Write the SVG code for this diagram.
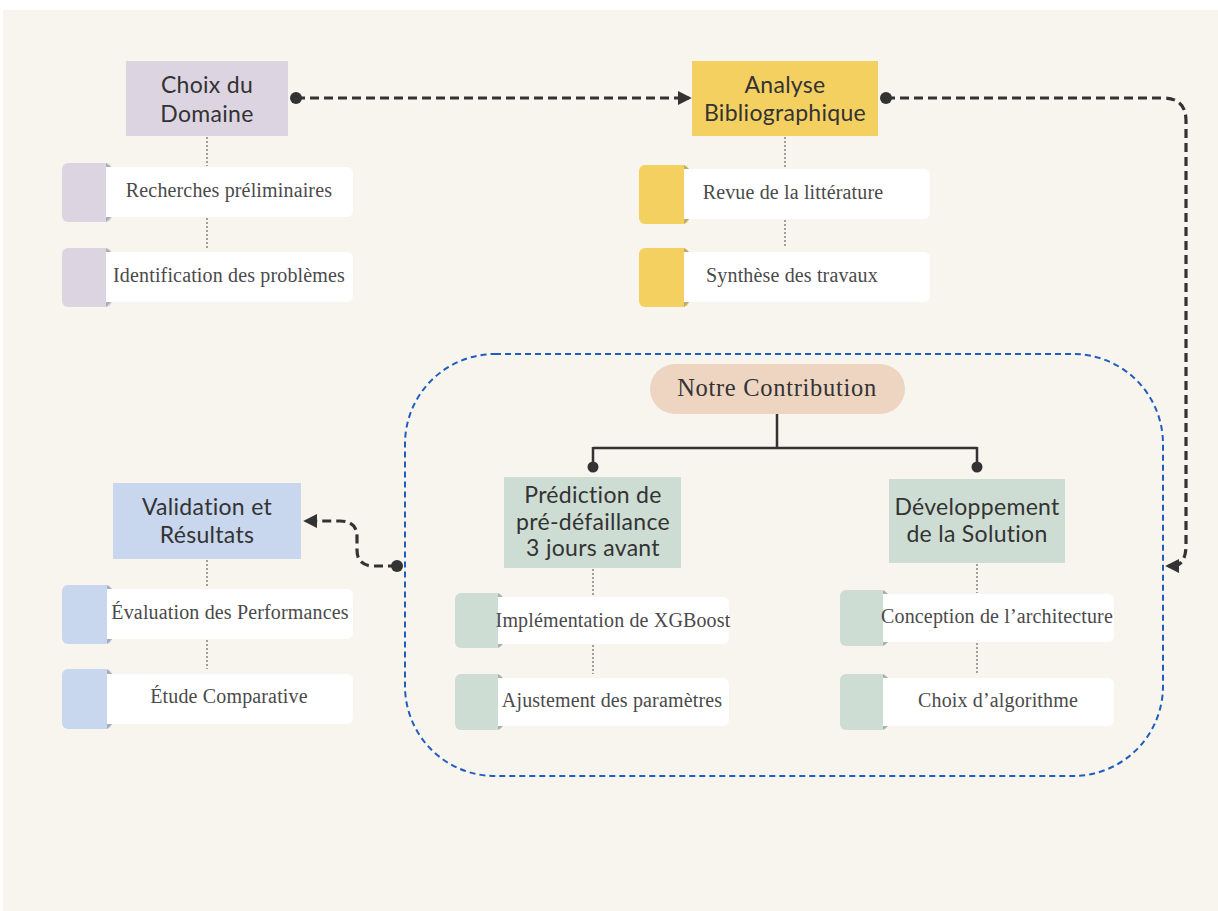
<svg xmlns="http://www.w3.org/2000/svg" width="1218" height="911" viewBox="0 0 1218 911">
  <defs>
    <marker id="arrow" viewBox="0 0 10 10" refX="8" refY="5" markerWidth="4.4" markerHeight="4.4" orient="auto-start-reverse" markerUnits="strokeWidth">
      <path d="M0,0 L10,5 L0,10 z" fill="#333"/>
    </marker>
  </defs>
  <style>
    .title { font-family: "Lato", "Open Sans", sans-serif; font-size: 23px; fill: #333333; text-anchor: middle; letter-spacing: 0.3px; font-variant-ligatures: none; }
    .item { font-family: "Liberation Serif", "Times New Roman", serif; font-size: 20px; fill: #4a4a4a; text-anchor: middle; letter-spacing: 0.15px; }
    .pill { font-family: "Liberation Serif", "Times New Roman", serif; font-size: 24.5px; fill: #333333; text-anchor: middle; letter-spacing: 0.7px; }
    .card { fill: #ffffff; }
    .fold { fill: #8a8a8a; opacity: 0.55; }
    .link { fill: none; stroke: #333; stroke-width: 3.2; stroke-dasharray: 9 5; }
    .tree { fill: none; stroke: #333; stroke-width: 2.5; }
    .dotted { fill: none; stroke: #666; stroke-width: 1.2; stroke-dasharray: 2 2; }
    .lav { fill: #DCD5E1; }
    .yel { fill: #F4D061; }
    .blu { fill: #C8D6EE; }
    .grn { fill: #CEDDD4; }
  </style>

  <!-- canvas -->
  <rect x="0" y="0" width="1218" height="911" fill="#ffffff"/>
  <rect x="3" y="10" width="1215" height="901" fill="#F8F5EF"/>

  <!-- contribution frame -->
  <path d="M495,354 H1073 A90,90 0 0 1 1163,444 V686 A90,90 0 0 1 1073,776 H495 A90,90 0 0 1 405,686 V444 A90,90 0 0 1 495,354 Z" fill="none" stroke="#1F5DC0" stroke-width="2" stroke-dasharray="6 4"/>

  <!-- connectors -->
  <g id="connectors">
    <path class="link" d="M296,98 H689" marker-end="url(#arrow)"/>
    <circle cx="296" cy="98" r="6" fill="#333"/>
    <path class="link" d="M886,98 H1163 Q1186,98 1186,121 V545 Q1186,566 1172,566 H1168" marker-end="url(#arrow)"/>
    <circle cx="886" cy="98" r="6" fill="#333"/>
    <path class="link" d="M397,566 H374 Q357,566 357,550 V537 Q357,521 340,521 H306" marker-end="url(#arrow)"/>
    <circle cx="397" cy="566" r="6" fill="#333"/>
    <path class="tree" d="M777,414 V448 M593,448 H977 M593,447 V467 M977,447 V467"/>
    <circle cx="593" cy="467" r="5.5" fill="#333"/>
    <circle cx="977" cy="467" r="5.5" fill="#333"/>
    <path class="dotted" d="M207,137 V166 M207,218 V248 M785,137 V168 M785,220 V248 M207,560 V588 M207,640 V669 M593,569 V596 M593,645 V674 M977,564 V593 M977,643 V674"/>
  </g>

  <!-- Choix du Domaine -->
  <g id="choix-domaine">
    <rect class="lav" x="126" y="61" width="162" height="75"/>
    <text class="title" x="207" y="93">Choix du</text>
    <text class="title" x="207" y="122">Domaine</text>
  </g>
  <g id="recherches">
    <rect class="lav" x="62" y="163" width="50" height="59" rx="6"/>
    <path class="fold" d="M106,163 L111,167 L106,167 Z M106,222 L111,217 L106,217 Z"/>
    <rect class="card" x="106" y="167" width="247" height="50" rx="6"/>
    <rect class="card" x="106" y="167" width="10" height="50"/>
    <text class="item" x="229" y="197">Recherches préliminaires</text>
  </g>
  <g id="identification">
    <rect class="lav" x="62" y="248" width="50" height="59" rx="6"/>
    <path class="fold" d="M106,248 L111,252 L106,252 Z M106,307 L111,302 L106,302 Z"/>
    <rect class="card" x="106" y="252" width="247" height="50" rx="6"/>
    <rect class="card" x="106" y="252" width="10" height="50"/>
    <text class="item" x="229" y="282">Identification des problèmes</text>
  </g>

  <!-- Analyse Bibliographique -->
  <g id="analyse">
    <rect class="yel" x="692" y="61" width="186" height="75"/>
    <text class="title" x="785" y="93">Analyse</text>
    <text class="title" x="785" y="121">Bibliographique</text>
  </g>
  <g id="revue">
    <rect class="yel" x="639" y="165" width="50" height="59" rx="6"/>
    <path class="fold" d="M684,165 L689,169 L684,169 Z M684,224 L689,219 L684,219 Z"/>
    <rect class="card" x="684" y="169" width="246" height="50" rx="6"/>
    <rect class="card" x="684" y="169" width="10" height="50"/>
    <text class="item" x="793" y="199">Revue de la littérature</text>
  </g>
  <g id="synthese">
    <rect class="yel" x="639" y="248" width="50" height="59" rx="6"/>
    <path class="fold" d="M684,248 L689,252 L684,252 Z M684,307 L689,302 L684,302 Z"/>
    <rect class="card" x="684" y="252" width="246" height="50" rx="6"/>
    <rect class="card" x="684" y="252" width="10" height="50"/>
    <text class="item" x="792" y="282">Synthèse des travaux</text>
  </g>

  <!-- Validation et Résultats -->
  <g id="validation">
    <rect class="blu" x="113" y="483" width="188" height="76"/>
    <text class="title" x="207" y="515">Validation et</text>
    <text class="title" x="207" y="543">Résultats</text>
  </g>
  <g id="evaluation">
    <rect class="blu" x="62" y="585" width="50" height="59" rx="6"/>
    <path class="fold" d="M107,585 L112,589 L107,589 Z M107,644 L112,639 L107,639 Z"/>
    <rect class="card" x="107" y="589" width="246" height="50" rx="6"/>
    <rect class="card" x="107" y="589" width="10" height="50"/>
    <text class="item" x="230" y="619">Évaluation des Performances</text>
  </g>
  <g id="etude">
    <rect class="blu" x="62" y="669" width="50" height="60" rx="6"/>
    <path class="fold" d="M107,669 L112,674 L107,674 Z M107,729 L112,724 L107,724 Z"/>
    <rect class="card" x="107" y="674" width="246" height="50" rx="6"/>
    <rect class="card" x="107" y="674" width="10" height="50"/>
    <text class="item" x="229" y="703">Étude Comparative</text>
  </g>

  <!-- Notre Contribution -->
  <g id="contribution">
    <rect x="650" y="364" width="255" height="50" rx="25" fill="#EDD5C2"/>
    <text class="pill" x="777" y="396">Notre Contribution</text>
  </g>

  <!-- Prédiction de pré-défaillance -->
  <g id="prediction">
    <rect class="grn" x="504" y="477" width="177" height="91"/>
    <text class="title" x="593" y="503">Prédiction de</text>
    <text class="title" x="593" y="530">pré-défaillance</text>
    <text class="title" x="593" y="556">3 jours avant</text>
  </g>
  <g id="xgboost">
    <rect class="grn" x="455" y="593" width="48" height="55" rx="6"/>
    <path class="fold" d="M498,593 L503,597 L498,597 Z M498,648 L503,644 L498,644 Z"/>
    <rect class="card" x="498" y="597" width="231" height="47" rx="6"/>
    <rect class="card" x="498" y="597" width="10" height="47"/>
    <text class="item" x="613" y="627">Implémentation de XGBoost</text>
  </g>
  <g id="ajustement">
    <rect class="grn" x="455" y="674" width="48" height="56" rx="6"/>
    <path class="fold" d="M498,674 L503,678 L498,678 Z M498,730 L503,726 L498,726 Z"/>
    <rect class="card" x="498" y="678" width="231" height="48" rx="6"/>
    <rect class="card" x="498" y="678" width="10" height="48"/>
    <text class="item" x="612" y="707">Ajustement des paramètres</text>
  </g>

  <!-- Développement de la Solution -->
  <g id="developpement">
    <rect class="grn" x="889" y="479" width="176" height="84"/>
    <text class="title" x="977" y="515">Développement</text>
    <text class="title" x="977" y="542">de la Solution</text>
  </g>
  <g id="conception">
    <rect class="grn" x="840" y="590" width="48" height="56" rx="6"/>
    <path class="fold" d="M883,590 L888,594 L883,594 Z M883,646 L888,642 L883,642 Z"/>
    <rect class="card" x="883" y="594" width="231" height="48" rx="6"/>
    <rect class="card" x="883" y="594" width="10" height="48"/>
    <text class="item" x="997" y="623">Conception de l’architecture</text>
  </g>
  <g id="algorithme">
    <rect class="grn" x="840" y="674" width="48" height="56" rx="6"/>
    <path class="fold" d="M883,674 L888,678 L883,678 Z M883,730 L888,726 L883,726 Z"/>
    <rect class="card" x="883" y="678" width="231" height="48" rx="6"/>
    <rect class="card" x="883" y="678" width="10" height="48"/>
    <text class="item" x="998" y="707">Choix d’algorithme</text>
  </g>
</svg>
